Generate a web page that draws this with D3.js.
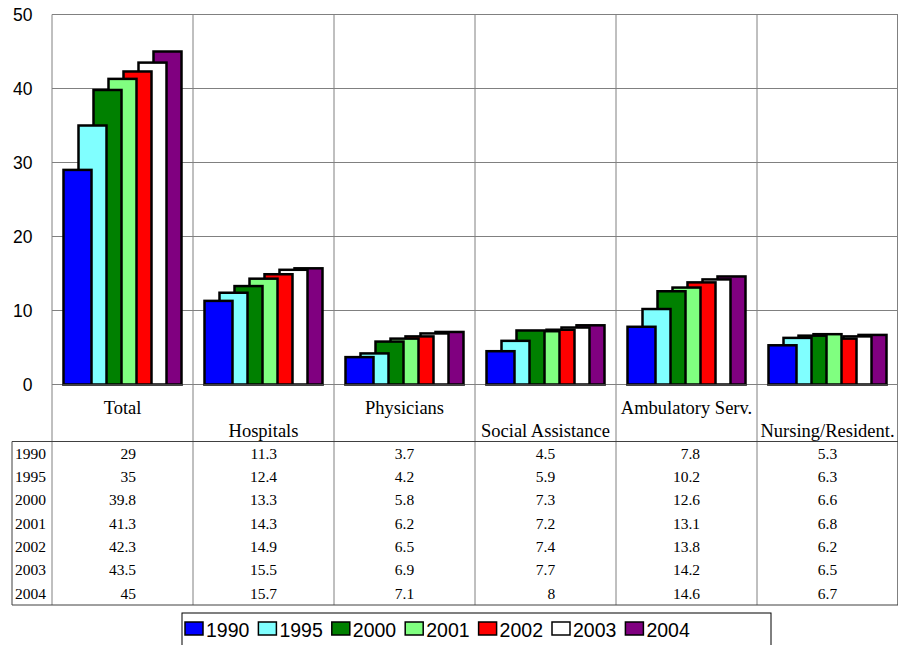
<!DOCTYPE html>
<html><head><meta charset="utf-8">
<script src="https://cdn.jsdelivr.net/npm/d3@7"></script>
<style>body{margin:0;background:#fff}svg{display:block}</style>
</head><body>
<svg id="c" width="898" height="645"></svg>
<script>
const categories = ["Total","Hospitals","Physicians","Social Assistance","Ambulatory Serv.","Nursing/Resident."];
const years = ["1990","1995","2000","2001","2002","2003","2004"];
const v1990 = [29,11.3,3.7,4.5,7.8,5.3];
const v1995 = [35,12.4,4.2,5.9,10.2,6.3];
const v2000 = [39.8,13.3,5.8,7.3,12.6,6.6];
const v2001 = [41.3,14.3,6.2,7.2,13.1,6.8];
const v2002 = [42.3,14.9,6.5,7.4,13.8,6.2];
const v2003 = [43.5,15.5,6.9,7.7,14.2,6.5];
const v2004 = [45,15.7,7.1,8,14.6,6.7];
const yTicks = [0,10,20,30,40,50];
const colors = ["#0000ff","#80ffff","#008000","#80ff80","#ff0000","#ffffff","#800080"];

const series = [v1990,v1995,v2000,v2001,v2002,v2003,v2004];
const svg = d3.select("#c");
const L = 52, R = 898, T = 14.5, B = 384.5;
const x = d3.scaleBand().domain(categories).range([L, R]).paddingInner(0).paddingOuter(0);
const y = d3.scaleLinear().domain([0,50]).range([B, T]);
const cw = x.bandwidth();
const step = 15, bw = 30;
const off = (cw - (6*step + bw))/2;
const xs = d3.scaleBand().domain(years).range([off, off + 7*step]).padding(0);

// gridlines
svg.append("g").selectAll("line").data(yTicks.filter(t=>t>0)).join("line")
  .attr("x1", L).attr("x2", R).attr("y1", d=>y(d)).attr("y2", d=>y(d))
  .attr("stroke", "#808080").attr("stroke-width", 1);
// vertical lines (plot + label + table)
const tableTop = 441.5, tableBot = 605;
svg.append("g").selectAll("line").data(categories).join("line")
  .attr("x1", d=>x(d)).attr("x2", d=>x(d)).attr("y1", T).attr("y2", tableBot)
  .attr("stroke", "#808080").attr("stroke-width", 1);
svg.append("line").attr("x1", R-0.5).attr("x2", R-0.5).attr("y1", T).attr("y2", tableBot).attr("stroke","#808080");
svg.append("line").attr("x1", L).attr("x2", R).attr("y1", T).attr("y2", T).attr("stroke","#808080");
svg.append("line").attr("x1", L).attr("x2", R).attr("y1", B).attr("y2", B).attr("stroke","#808080");

// y labels
svg.append("g").selectAll("text").data(yTicks).join("text")
  .attr("x", 32.5).attr("y", d=>y(d)).attr("dy", "0.36em").attr("text-anchor","end")
  .attr("font-family","Liberation Sans, Arial, sans-serif").attr("font-size", 17.5)
  .text(d=>d);

// bars: draw later series first so earlier series appear in front
const bars = svg.append("g");
for (let s = series.length-1; s >= 0; s--) {
  bars.append("g").selectAll("rect").data(categories.map((c,i)=>({c, v: series[s][i]}))).join("rect")
    .attr("x", d=>x(d.c) + xs(years[s]) + 1)
    .attr("y", d=>y(d.v))
    .attr("width", bw - 2)
    .attr("height", d=>B - y(d.v))
    .attr("fill", colors[s]).attr("stroke", "#000").attr("stroke-width", 2.5);
}
// shadow at base
svg.append("g").selectAll("line").data(categories).join("line")
  .attr("x1", d=>x(d)+off).attr("x2", d=>x(d)+off+6*step+bw).attr("y1", B+0.5).attr("y2", B+0.5)
  .attr("stroke","#404040").attr("stroke-width",2);

// category labels
svg.append("g").selectAll("text").data(categories).join("text")
  .attr("x", d=>x(d)+cw/2).attr("y", (d,i)=> i%2===0 ? 414 : 437)
  .attr("text-anchor","middle")
  .attr("font-family","Liberation Serif, Times New Roman, serif").attr("font-size", 18.5)
  .text(d=>d);

// table
svg.append("line").attr("x1", 12).attr("x2", R).attr("y1", tableTop).attr("y2", tableTop).attr("stroke","#404040");
svg.append("line").attr("x1", 12).attr("x2", R).attr("y1", tableBot).attr("y2", tableBot).attr("stroke","#404040");
svg.append("line").attr("x1", 12).attr("x2", 12).attr("y1", tableTop).attr("y2", tableBot).attr("stroke","#404040");
const rowH = (tableBot - tableTop)/7;
const tg = svg.append("g").attr("font-family","Liberation Serif, Times New Roman, serif").attr("font-size", 15.5);
years.forEach((yr, r) => {
  tg.append("text").attr("x", 15).attr("y", tableTop + rowH*(r+0.5)).attr("dy","0.35em").text(yr);
});
categories.forEach((c, i) => {
  const texts = series.map((s, r) => tg.append("text").attr("y", tableTop + rowH*(r+0.5)).attr("dy","0.35em").attr("text-anchor","end").text(s[i]));
  const maxW = d3.max(texts, t => t.node().getComputedTextLength());
  texts.forEach(t => t.attr("x", x(c) + cw/2 + maxW/2));
});

// legend
const lg = svg.append("g");
lg.append("rect").attr("x", 182).attr("y", 613).attr("width", 589).attr("height", 40)
  .attr("fill","#fff").attr("stroke","#000").attr("stroke-width",1);
years.forEach((yr, k) => {
  const gx = 185 + k*73.4;
  lg.append("rect").attr("x", gx).attr("y", 622).attr("width", 18).attr("height", 13)
    .attr("fill", colors[k]).attr("stroke","#000").attr("stroke-width",1.5);
  lg.append("text").attr("x", gx+21).attr("y", 636.5)
    .attr("font-family","Liberation Sans, Arial, sans-serif").attr("font-size", 19.5).text(yr);
});
</script>
</body></html>
